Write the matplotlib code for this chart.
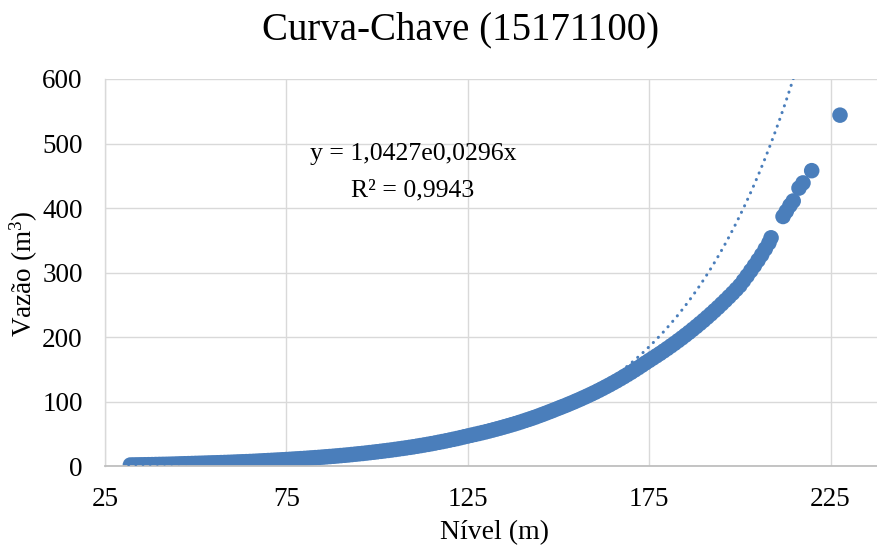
import matplotlib
matplotlib.use("Agg")
import matplotlib.pyplot as plt
import numpy as np

# ---- data ----
nivel = list(range(32, 209)) + [208.6,
         211.9, 212.8, 213.8, 214.7, 216.3, 217.4, 219.8, 227.6]
vazao = [
    # 32 - 50
    2.0, 2.1, 2.2, 2.3, 2.4, 2.5, 2.6, 2.75, 2.9, 3.0, 3.1, 3.25, 3.4, 3.6, 3.8, 3.95, 4.1, 4.3, 4.5,
    # 51 - 75
    4.65, 4.8, 5.0, 5.2, 5.35, 5.5, 5.7, 5.9, 6.1, 6.3, 6.55, 6.8, 7.0, 7.2, 7.45, 7.7, 8.0, 8.3,
    8.6, 8.9, 9.2, 9.5, 9.8, 10.1, 10.45,
    # 76 - 100
    10.8, 11.15, 11.5, 11.85, 12.2, 12.6, 13.0, 13.4, 13.8, 14.25, 14.7, 15.15, 15.6, 16.1, 16.6,
    17.1, 17.6, 18.2, 18.8, 19.35, 19.9, 20.55, 21.2, 21.85, 22.5,
    # 101 - 125
    23.2, 23.9, 24.6, 25.3, 26.1, 26.9, 27.7, 28.5, 29.35, 30.2, 31.15, 32.1, 33.05, 34.0, 35.05,
    36.1, 37.2, 38.3, 39.45, 40.6, 41.8, 43.0, 44.35, 45.7, 46.95,
    # 126 - 150
    48.2, 49.5, 50.8, 52.15, 53.5, 54.95, 56.4, 57.9, 59.4, 61.0, 62.6, 64.25, 65.9, 67.65, 69.4,
    71.25, 73.1, 75.05, 77.0, 79.1, 81.2, 83.35, 85.5, 87.75, 90.0,
    # 151 - 175
    92.2, 94.4, 96.75, 99.1, 101.55, 104.0, 106.55, 109.1, 111.75, 114.4, 117.25, 120.1, 123.05,
    126.0, 129.1, 132.2, 135.45, 138.7, 142.1, 145.5, 149.1, 152.7, 156.45, 160.2, 163.85,
    # 176 - 200
    167.5, 171.15, 174.8, 178.65, 182.5, 186.5, 190.5, 194.65, 198.8, 203.15, 207.5, 212.05,
    216.6, 221.3, 226.0, 230.95, 235.9, 241.05, 246.2, 251.6, 257.0, 262.6, 268.2, 274.1, 280.0,
    # 201 - 208
    287.5, 295.0, 302.9, 310.8, 319.15, 327.5, 336.75, 346.0,
    # tail
    354,
    387, 395, 404, 411, 431, 439, 458, 544]

# exponential trendline as printed on the chart
trend_a = 1.0427
trend_b = 0.0296
trend_x_range = [31.5, 216.5]

x_ticks = [25, 75, 125, 175, 225]
y_ticks = [0, 100, 200, 300, 400, 500, 600]

title = "Curva-Chave (15171100)"
eq_line1 = "y = 1,0427e0,0296x"
eq_line2 = "R² = 0,9943"
xlabel = "Nível (m)"
ylabel = "Vazão (m$^{3}$)"

# ---- style ----
blue = "#4a7ebb"
serif = "Liberation Serif"
plt.rcParams["font.family"] = [serif, "DejaVu Serif"]
plt.rcParams["mathtext.fontset"] = "custom"
plt.rcParams["mathtext.rm"] = serif
plt.rcParams["mathtext.it"] = serif

W, H = 877, 546
fig = plt.figure(figsize=(W / 100, H / 100), dpi=100)
left_px, right_px, top_px, bottom_px = 105, 877, 79, 466.3
ax = fig.add_axes([left_px / W, 1 - bottom_px / H,
                   (right_px - left_px) / W, (bottom_px - top_px) / H])

ax.set_xlim(25, 237.8)
ax.set_ylim(0, 600)
ax.set_xticks(x_ticks)
ax.set_yticks(y_ticks)
ax.grid(True, color="#d9d9d9", lw=1.0)
ax.set_axisbelow(True)
for s in ["top", "right"]:
    ax.spines[s].set_visible(False)
ax.spines["left"].set_color("#d9d9d9")
ax.spines["left"].set_linewidth(1.0)
ax.spines["bottom"].set_color("#bfbfbf")
ax.spines["bottom"].set_linewidth(1.3)
ax.tick_params(length=0, labelsize=19.5, colors="black")
ax.tick_params(axis="x", pad=15)
ax.tick_params(axis="y", pad=16)

ax.scatter(nivel, vazao, s=125, color=blue, edgecolors="none", zorder=2)

xt = np.linspace(trend_x_range[0], trend_x_range[1], 400)
yt = trend_a * np.exp(trend_b * xt)
ax.plot(xt, yt, color=blue, lw=2.2, ls=(0, (0.05, 2.3)),
        dash_capstyle="round", zorder=3)

fig.text(461 / W, 1 - 39 / H, title, ha="center", va="baseline", fontsize=28)
fig.text(413 / W, 1 - 160 / H, eq_line1, ha="center", va="baseline", fontsize=18.5)
fig.text(413 / W, 1 - 196 / H, eq_line2, ha="center", va="baseline", fontsize=18.5)
fig.text(495 / W, 1 - 539 / H, xlabel, ha="center", va="baseline", fontsize=20)
fig.text(24 / W, 1 - 274 / H, ylabel, ha="center", va="center",
         rotation=90, fontsize=19.5)

fig.savefig("out.png", dpi=100)
